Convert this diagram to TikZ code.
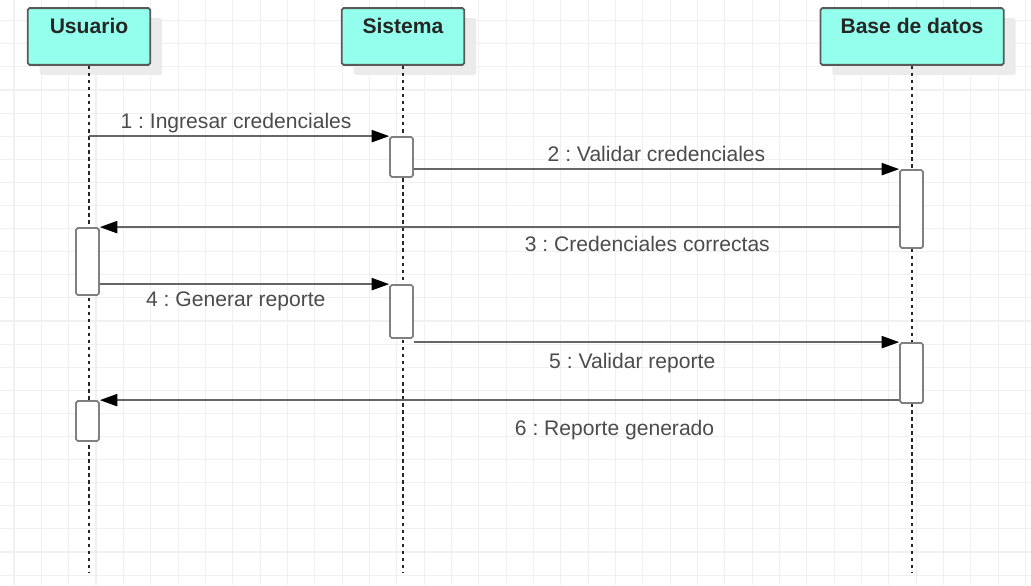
\documentclass[tikz,border=0pt]{standalone}
\usepackage{fontspec}
\setmainfont{Liberation Sans}
\usetikzlibrary{arrows.meta,fit,shadows}
\definecolor{cabecera}{HTML}{94FFEC}
\frenchspacing

\begin{document}
\begin{tikzpicture}[x=0.02cm,y=-0.02cm,
    cuadricula/.style = {draw=black!6, line width=0.6pt},
    cabeza/.style = {draw=black!65, line width=1pt, fill=cabecera, rounded corners=1pt,
        minimum width=#1, text height=14.2pt, text depth=18.1pt, inner sep=0pt,
        font=\bfseries\fontsize{12}{14}\selectfont, text=black!85,
        drop shadow={shadow xshift=6.8pt, shadow yshift=-5.7pt, fill=black!8, opacity=1}},
    vida/.style = {draw=black!85, line width=0.9pt, dash pattern=on 2pt off 2pt},
    activa/.style = {draw=black!50, line width=1pt, fill=white, rounded corners=1pt, inner sep=0pt},
    mensaje/.style = {draw=black!60, line width=0.9pt, -{Triangle[length=10pt,width=7pt,color=black]}},
    etiqueta/.style = {font=\fontsize{12}{14}\selectfont, text=black!70, anchor=base, inner sep=0pt}]

    \fill[white] (0,0) rectangle (1031,585);
    \useasboundingbox (0,0) rectangle (1031,585);
    \foreach \gx in {0,...,37} \draw[cuadricula] (14+27.34*\gx,0) -- (14+27.34*\gx,585);
    \foreach \gy in {0,...,24} \draw[cuadricula] (0,20.7+23.1*\gy) -- (1031,20.7+23.1*\gy);

    % cabeceras
    \node[cabeza=69.7pt](usuario) at (89,36.5) {Usuario};
    \node[cabeza=69.7pt](sistema) at (403,36.5) {Sistema};
    \node[cabeza=104.3pt](datos) at (912,36.5) {Base de datos};

    \coordinate (fin) at (0,573);
    \draw[vida] (usuario.south) -- (usuario.south |- fin);
    \draw[vida] (sistema.south) -- (sistema.south |- fin);
    \draw[vida] (datos.south) -- (datos.south |- fin);

    % activaciones
    \node[activa, fit={(390,137) (413,177)}](act1) {};
    \node[activa, fit={(900,170) (923,248)}](act2) {};
    \node[activa, fit={(76,228) (99,295)}](act3) {};
    \node[activa, fit={(390,285) (413,338)}](act4) {};
    \node[activa, fit={(900,343) (923,403)}](act5) {};
    \node[activa, fit={(76,401) (99,441)}](act6) {};

    % mensajes
    \draw[mensaje] (usuario.south |- act1.north west) -- node[etiqueta, pos=0.49, yshift=4.5pt]{1 : Ingresar credenciales} (act1.north west);
    \draw[mensaje] (act1.east |- act2.north west) -- node[etiqueta, pos=0.5, yshift=4.5pt]{2 : Validar credenciales} (act2.north west);
    \draw[mensaje] (act2.west |- act3.north east) -- node[etiqueta, pos=0.315, yshift=-14pt]{3 : Credenciales correctas} (act3.north east);
    \draw[mensaje] (act3.east |- act4.north west) -- node[etiqueta, pos=0.47, yshift=-12.8pt]{4 : Generar reporte} (act4.north west);
    \draw[mensaje] (act4.east |- act5.north west) -- node[etiqueta, pos=0.45, yshift=-15pt]{5 : Validar reporte} (act5.north west);
    \draw[mensaje] (act5.west |- act6.north east) -- node[etiqueta, pos=0.356, yshift=-20.2pt]{6 : Reporte generado} (act6.north east);
\end{tikzpicture}
\end{document}
